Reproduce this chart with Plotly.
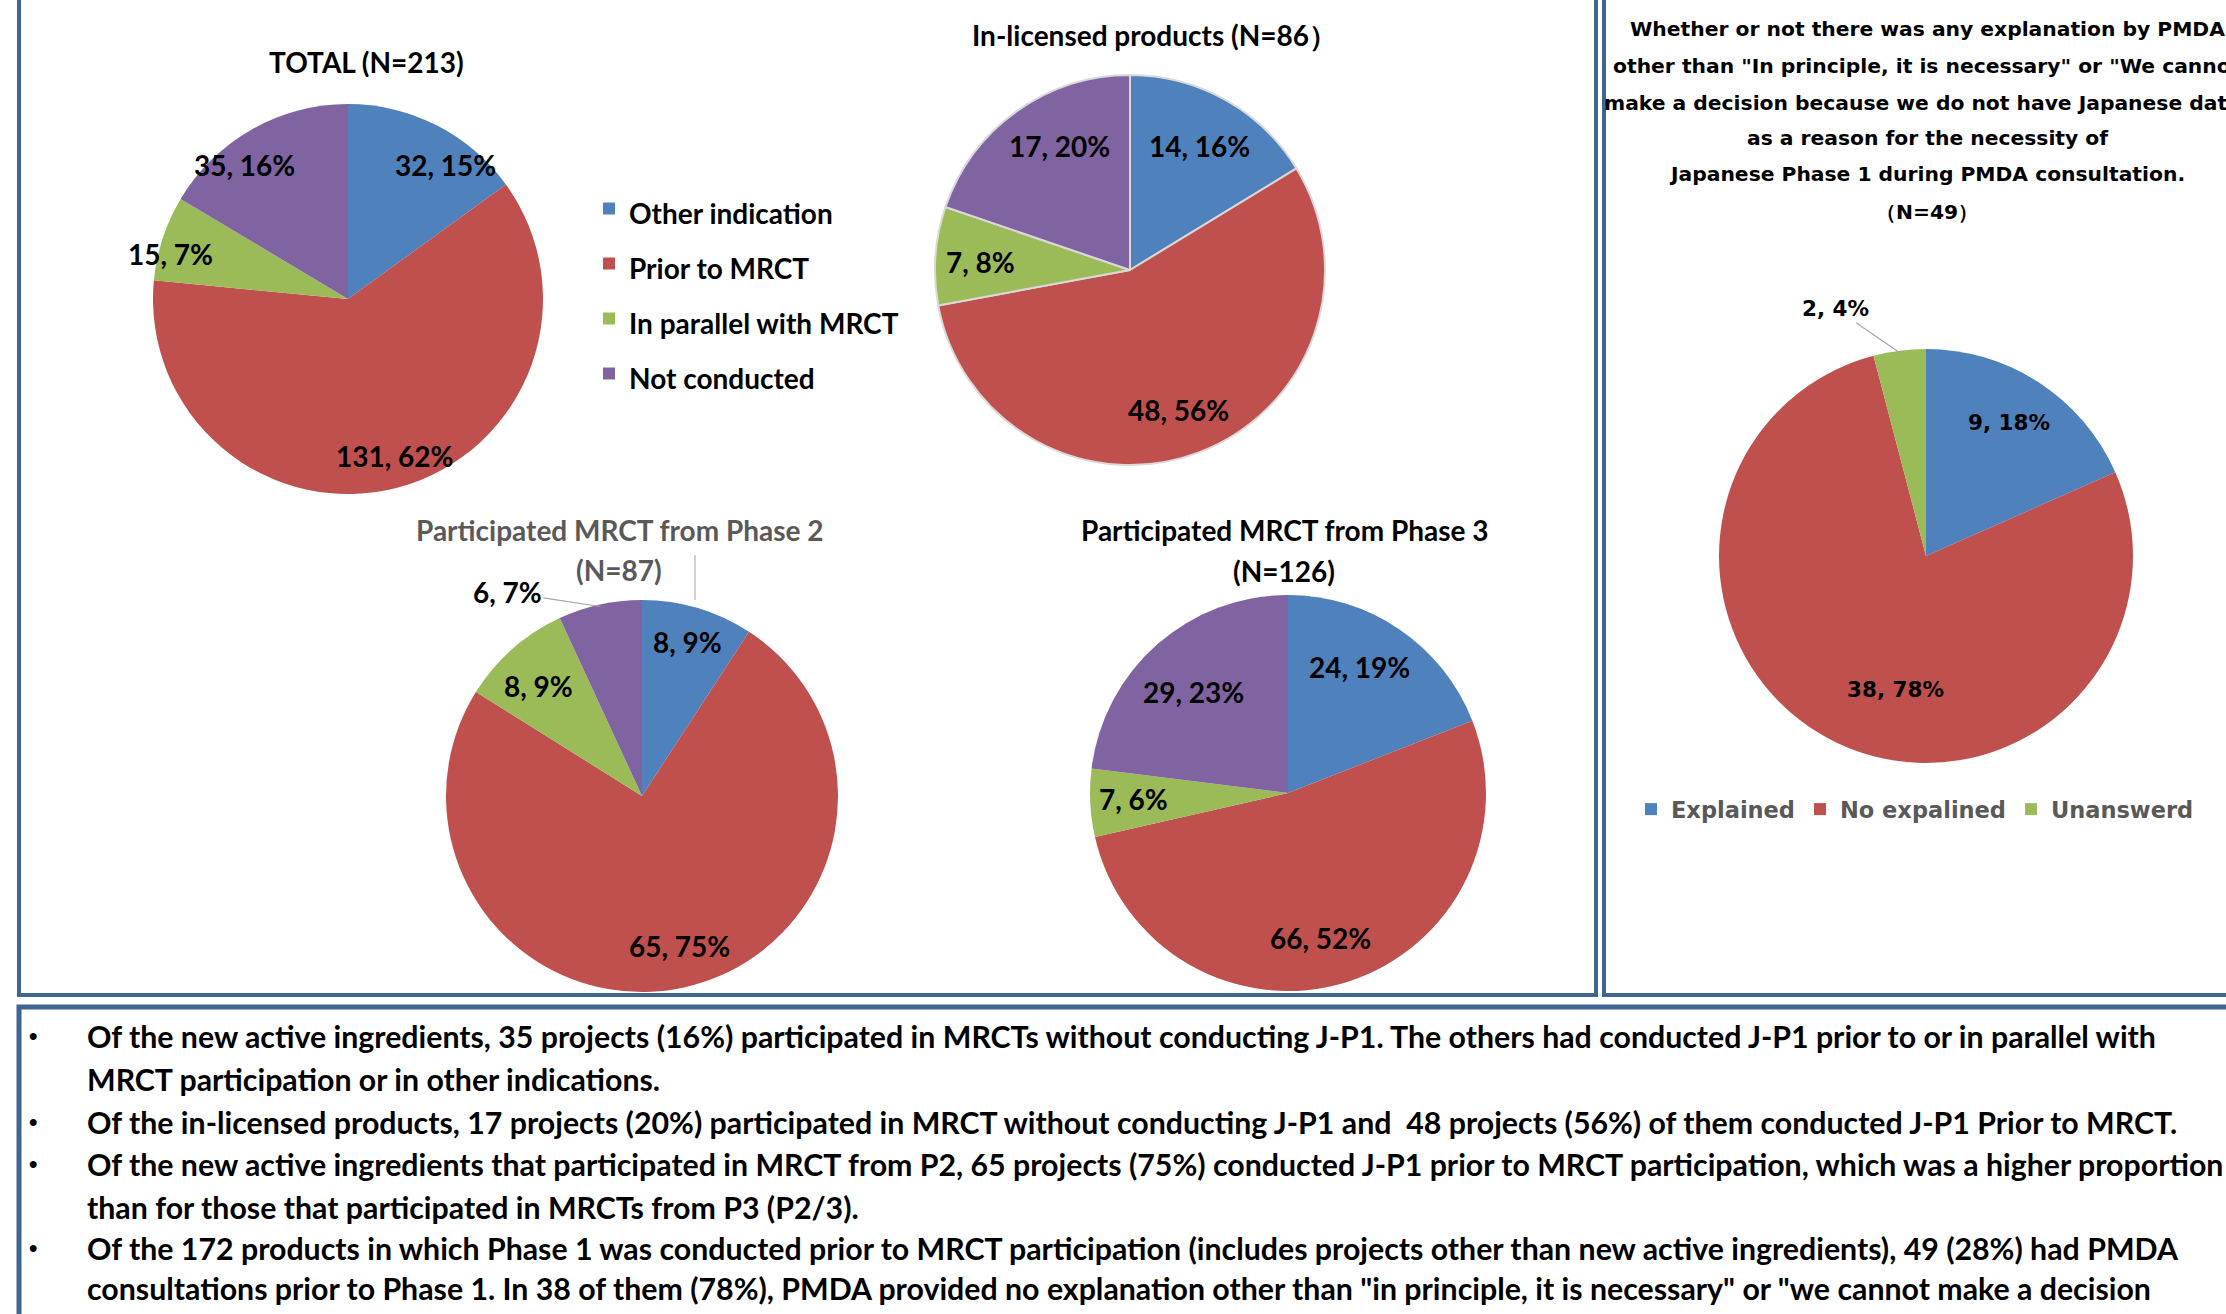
import math
import plotly.graph_objects as go

# ---------------- data ----------------
categories = ["Other indication", "Prior to MRCT", "In parallel with MRCT", "Not conducted"]
total_values = [32, 131, 15, 35]
inlicensed_values = [14, 48, 7, 17]
phase2_values = [8, 65, 8, 6]
phase3_values = [24, 66, 7, 29]

pmda_categories = ["Explained", "No expalined", "Unanswerd"]
pmda_values = [9, 38, 2]

title_total = "TOTAL (N=213)"
title_inlicensed = "In-licensed products (N=86\uff09"
title_phase2 = ["Participated MRCT from Phase 2", "(N=87)"]
title_phase3 = ["Participated MRCT from Phase 3", "(N=126)"]
title_pmda = [
    "Whether or not there was any explanation by PMDA",
    "other than \"In principle, it is necessary\" or \"We cannot",
    "make a decision because we do not have Japanese data\"",
    "as a reason for the necessity of",
    "Japanese Phase 1 during PMDA consultation.",
    "\uff08N=49\uff09",
]
notes = [
    (True, "Of the new active ingredients, 35 projects (16%) participated in MRCTs without conducting J-P1. The others had conducted J-P1 prior to or in parallel with"),
    (False, "MRCT participation or in other indications."),
    (True, "Of the in-licensed products, 17 projects (20%) participated in MRCT without conducting J-P1 and  48 projects (56%) of them conducted J-P1 Prior to MRCT."),
    (True, "Of the new active ingredients that participated in MRCT from P2, 65 projects (75%) conducted J-P1 prior to MRCT participation, which was a higher proportion"),
    (False, "than for those that participated in MRCTs from P3 (P2/3)."),
    (True, "Of the 172 products in which Phase 1 was conducted prior to MRCT participation (includes projects other than new active ingredients), 49 (28%) had PMDA"),
    (False, "consultations prior to Phase 1. In 38 of them (78%), PMDA provided no explanation other than \"in principle, it is necessary\" or \"we cannot make a decision"),
]

# ---------------- styles ----------------
W, H = 2226, 1314
NARROW = "Lato, sans-serif"
WIDE = "DejaVu Sans, Verdana, sans-serif"
colors4 = ["#4F81BD", "#C0504D", "#9BBB59", "#8064A2"]
colors3 = ["#4F81BD", "#C0504D", "#9BBB59"]
FRAME = "#3F6593"


def px(x):
    return x / W


def py(y):
    return 1 - y / H


pies = [
    dict(values=total_values, labels=categories, colors=colors4, cx=348, cy=299, r=195,
         fr=[0.85, 0.84, 0.94, 0.87], da=[9, -1.5, -4, -8], out={}, font=NARROW, fs=28,
         legend="legend", show=True, line=0),
    dict(values=inlicensed_values, labels=categories, colors=colors4, cx=1130, cy=270, r=195,
         fr=[0.73, 0.76, 0.77, 0.73], da=[0, 2, -1, 6], out={}, font=NARROW, fs=28,
         legend="legend", show=False, line=2),
    dict(values=phase2_values, labels=categories, colors=colors4, cx=642, cy=796, r=196,
         fr=[0.82, 0.79, 0.77, 1.0], da=[0, -1.5, -2, 0], out={3: (-93, -14)}, font=NARROW, fs=28,
         legend="legend", show=False, line=0),
    dict(values=phase3_values, labels=categories, colors=colors4, cx=1288, cy=793, r=198,
         fr=[0.73, 0.75, 0.78, 0.70], da=[-4.6, 4.6, 0.7, -1.6], out={}, font=NARROW, fs=28,
         legend="legend", show=False, line=0),
    dict(values=pmda_values, labels=pmda_categories, colors=colors3, cx=1926, cy=556, r=207,
         fr=[0.76, 0.66, 1.0], da=[-1.3, -12.7, 0], out={2: (-64, -44)}, font=WIDE, fs=21.5,
         legend="legend2", show=True, line=0),
]

fig = go.Figure()
annotations = []

for p in pies:
    cx, cy, r = p["cx"], p["cy"], p["r"]
    if p["legend"] == "legend":
        names = ['<span style="font-size:28px">%s</span>' % c for c in p["labels"]]
    else:
        names = list(p["labels"])
    fig.add_trace(go.Pie(
        labels=names, values=p["values"], sort=False, direction="clockwise", rotation=0,
        marker=dict(colors=p["colors"], line=dict(color="#D9D9D9", width=p["line"])),
        textinfo="none", hoverinfo="label+value+percent",
        domain=dict(x=[px(cx - r), px(cx + r)], y=[py(cy + r), py(cy - r)]),
        showlegend=p["show"], legend=p["legend"],
    ))
    total = sum(p["values"])
    cum = 0
    for i, v in enumerate(p["values"]):
        mid = (cum + v / 2) / total * 360
        cum += v
        pct = int(v * 100 / total + 0.5)
        txt = "%d, %d%%" % (v, pct)
        font = dict(family=p["font"], size=p["fs"], color="black", weight="bold")
        if i in p["out"]:
            th = math.radians(mid)
            ex = cx + r * 0.99 * math.sin(th)
            ey = cy - r * 0.99 * math.cos(th)
            ax, ay = p["out"][i]
            annotations.append(dict(x=px(ex), y=py(ey), xref="paper", yref="paper", text=txt,
                                    showarrow=True, ax=ax, ay=ay, arrowhead=0, arrowwidth=1.2,
                                    arrowcolor="#A6A6A6", standoff=0, font=font))
        else:
            th = math.radians(mid + p["da"][i])
            lx = cx + r * p["fr"][i] * math.sin(th)
            ly = cy - r * p["fr"][i] * math.cos(th)
            annotations.append(dict(x=px(lx), y=py(ly), xref="paper", yref="paper", text=txt,
                                    showarrow=False, xanchor="center", yanchor="middle", font=font))


def label(text, x, y, family=NARROW, size=28, color="black", anchor="center"):
    annotations.append(dict(x=px(x), y=py(y), xref="paper", yref="paper", text=text,
                            showarrow=False, xanchor=anchor, yanchor="middle",
                            font=dict(family=family, size=size, color=color, weight="bold")))


label(title_total, 366, 62)
label(title_inlicensed, 1154, 35)
label(title_phase2[0], 620, 530, color="#595959")
label(title_phase2[1], 619, 570, color="#595959")
label(title_phase3[0], 1285, 530)
label(title_phase3[1], 1284, 571)

pmda_title_y = [29, 66, 103, 138, 174, 212]
for t, y in zip(title_pmda, pmda_title_y):
    label(t, 1927, y, family=WIDE, size=20.3)

note_y = [1036, 1079, 1122, 1164, 1207, 1248, 1288]
for (bullet, t), y in zip(notes, note_y):
    if bullet:
        label("\u2022", 33, y - 1, family="Liberation Sans, Arial, sans-serif", size=24)
    label(t, 85, y, size=30.3, anchor="left")

shapes = [
    dict(type="rect", xref="paper", yref="paper", x0=px(19), x1=px(1596), y0=py(995), y1=py(-30),
         line=dict(color=FRAME, width=4), layer="above"),
    dict(type="rect", xref="paper", yref="paper", x0=px(1604), x1=px(2260), y0=py(995), y1=py(-30),
         line=dict(color=FRAME, width=4), layer="above"),
    dict(type="rect", xref="paper", yref="paper", x0=px(19), x1=px(2260), y0=py(1360), y1=py(1007),
         line=dict(color=FRAME, width=5), layer="above"),
    dict(type="line", xref="paper", yref="paper", x0=px(695), x1=px(695), y0=py(555), y1=py(600),
         line=dict(color="#A6A6A6", width=1)),
]

fig.update_layout(
    width=W, height=H, autosize=False,
    margin=dict(l=0, r=0, t=0, b=0, pad=0),
    paper_bgcolor="white", plot_bgcolor="white",
    annotations=annotations, shapes=shapes,
    legend=dict(x=px(589), y=py(176), xanchor="left", yanchor="top", orientation="v",
                font=dict(family=NARROW, size=40, color="black", weight="bold"),
                bgcolor="rgba(0,0,0,0)", traceorder="normal"),
    legend2=dict(x=px(1631), y=py(788), xanchor="left", yanchor="top", orientation="h",
                 font=dict(family=WIDE, size=22.5, color="#595959", weight="bold"),
                 bgcolor="rgba(0,0,0,0)"),
)

fig.write_html("out.html", config={"displayModeBar": False})
